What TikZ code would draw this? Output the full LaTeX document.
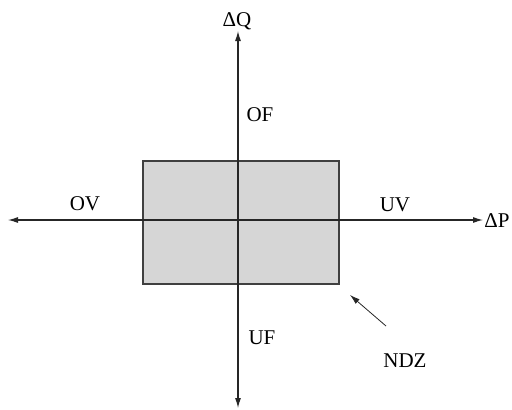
\documentclass[tikz,border=0pt]{standalone}
\usepackage{fontspec}
\setmainfont{Liberation Serif}
\usepackage{tikz}
\usetikzlibrary{positioning,arrows.meta}

\begin{document}
\begin{tikzpicture}[x=1pt, y=-1pt,
    every node/.style={font=\fontsize{21}{23}\selectfont, inner sep=0pt, text depth=0pt},
    axis/.style={-{Latex[length=10pt, width=6pt]}, line width=1.1pt, black!85},
    zone/.style={draw=black!75, line width=1.2pt, fill=black!16},
]
\useasboundingbox (0,0) rectangle (512,410);

% dead zone box
\node[zone, minimum width=196pt, minimum height=123pt] (ndzbox) at (241,222.5) {};

% axes
\coordinate (o) at (238,220);
\node (dq) at (237,20) {ΔQ};
\node (dp) at (497,221) {ΔP};
\coordinate (top) at (238,31);
\coordinate (left) at (8,220);
\coordinate (right) at (483,220);
\coordinate (bottom) at (238,408);
\draw[axis] (o) -- (right);
\draw[axis] (o) -- (left);
\draw[axis] (o) -- (top);
\draw[axis] (o) -- (bottom);

% region labels
\node (of) at (260,115) {OF};
\node (ov) at (85,204) {OV};
\node (uv) at (395,205) {UV};
\node (uf) at (262,338) {UF};
\node (ndz) at (405,361) {NDZ};
\coordinate (ndztip) at (350,295);
\draw[axis, line width=0.8pt] (386,326) -- (ndztip);

\end{tikzpicture}
\end{document}
